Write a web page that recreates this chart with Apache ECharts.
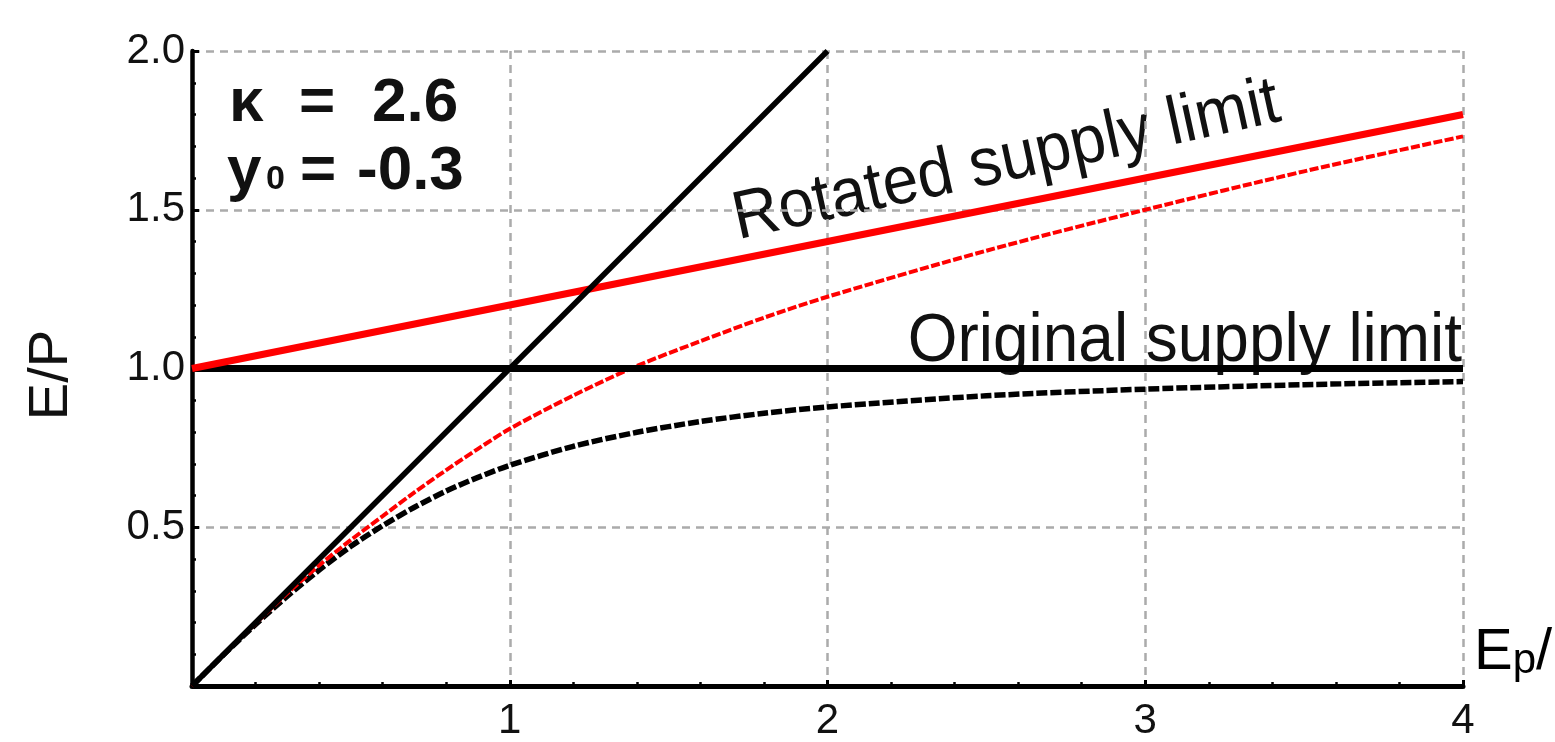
<!DOCTYPE html>
<html>
<head>
<meta charset="utf-8">
<script src="https://cdn.jsdelivr.net/npm/echarts@6/dist/echarts.min.js"></script>
<style>
  html, body { margin: 0; padding: 0; background: #fff; }
  #chart { width: 1555px; height: 742px; }
</style>
</head>
<body>
<div id="chart"></div>
<script>
// Aridity index Ep/P along the x axis
const aridity = [0, 0.1, 0.2, 0.3, 0.4, 0.5, 0.6, 0.7, 0.8, 0.9, 1.0, 1.2, 1.4, 1.6, 1.8, 2.0, 2.5, 3.0, 3.5, 4.0];
// Evaporative index E/P for the original curve (black dashed)
const originalCurve = [0, 0.099, 0.194, 0.283, 0.365, 0.44, 0.505, 0.563, 0.614, 0.657, 0.695, 0.755, 0.799, 0.833, 0.859, 0.879, 0.914, 0.935, 0.949, 0.959];
// Evaporative index E/P under the rotated supply limit (red dashed)
const rotatedCurve = [0, 0.1, 0.197, 0.292, 0.38, 0.46, 0.535, 0.61, 0.68, 0.747, 0.81, 0.915, 1.008, 1.086, 1.16, 1.226, 1.371, 1.5, 1.621, 1.731];
// Straight limits
const limitX = [0, 4];
const originalLimit = [1, 1];
const rotatedLimit = [1, 1.8];
const demandX = [0, 2];
const demandLimit = [0, 2];
// Axis ticks
const xTicks = [1, 2, 3, 4];
const yTicks = [0.5, 1.0, 1.5, 2.0];

const pairs = (xs, ys) => xs.map((x, i) => [x, ys[i]]);

const chart = echarts.init(document.getElementById('chart'), null, { renderer: 'canvas' });
const font = '"Liberation Sans", Arial, Helvetica, sans-serif';
const ink = '#111';

const gridDash = { color: '#ababab', width: 2.5, type: [8, 6] };

// helper for a plain text element in pixel space
function label(text, x, y, size, opts) {
  opts = opts || {};
  return {
    type: 'text', x: x, y: y,
    rotation: opts.rotation || 0,
    scaleX: opts.scaleX || 1,
    style: {
      text: text,
      font: (opts.bold ? 'bold ' : '') + size + 'px ' + font,
      fill: ink,
      align: opts.align || 'left',
      verticalAlign: 'middle'
    }
  };
}

chart.setOption({
  animation: false,
  backgroundColor: '#ffffff',
  grid: { left: 192, top: 51, width: 1271, height: 642, containLabel: false },
  xAxis: {
    type: 'value', min: 0, max: 4, interval: 1,
    axisLine: { show: true, onZero: false, lineStyle: { color: '#000', width: 5 } },
    axisTick: { show: true, inside: true, length: 6, lineStyle: { color: '#000', width: 3 } },
    minorTick: { show: true, splitNumber: 5, length: 4, lineStyle: { color: '#000', width: 2.5 } },
    splitLine: { show: true, lineStyle: gridDash },
    axisLabel: {
      fontFamily: font, fontSize: 42, color: ink, margin: 14,
      formatter: v => (xTicks.indexOf(v) >= 0 ? String(v) : '')
    }
  },
  yAxis: {
    type: 'value', min: 0, max: 2, interval: 0.5,
    axisLine: { show: true, onZero: false, lineStyle: { color: '#000', width: 4.5 } },
    axisTick: { show: true, inside: true, length: 7, lineStyle: { color: '#000', width: 3 } },
    minorTick: { show: true, splitNumber: 5, length: 4, lineStyle: { color: '#000', width: 2.5 } },
    splitLine: { show: true, lineStyle: gridDash },
    axisLabel: {
      fontFamily: font, fontSize: 42, color: ink, margin: 7,
      formatter: v => (yTicks.indexOf(v) >= 0 ? v.toFixed(1) : '')
    }
  },
  series: [
    {
      name: 'original', type: 'line', data: pairs(aridity, originalCurve),
      showSymbol: false, smooth: 0.3, z: 2,
      lineStyle: { color: '#000', width: 5.5, type: [11, 3] }
    },
    {
      name: 'rotated', type: 'line', data: pairs(aridity, rotatedCurve),
      showSymbol: false, smooth: 0.3, z: 3,
      lineStyle: { color: '#ff0000', width: 4, type: [9, 2.5] }
    },
    {
      name: 'original limit', type: 'line', data: pairs(limitX, originalLimit),
      showSymbol: false, z: 4,
      lineStyle: { color: '#000', width: 7 }
    },
    {
      name: 'rotated limit', type: 'line', data: pairs(limitX, rotatedLimit),
      showSymbol: false, z: 5,
      lineStyle: { color: '#ff0000', width: 7 }
    },
    {
      name: 'demand limit', type: 'line', data: pairs(demandX, demandLimit),
      showSymbol: false, z: 6,
      lineStyle: { color: '#000', width: 5.5 }
    }
  ],
  graphic: [
    label('E/P', 52, 375, 56, { rotation: Math.PI / 2, align: 'center' }),
    {
      type: 'text', x: 1474, y: 651,
      style: {
        text: '{e|E}{p|p}{e|/P}', align: 'left', verticalAlign: 'middle',
        rich: {
          e: { fontFamily: font, fontSize: 58, color: ink, verticalAlign: 'bottom', lineHeight: 62 },
          p: { fontFamily: font, fontSize: 42, color: ink, verticalAlign: 'bottom', lineHeight: 62 }
        }
      }
    },
    // model parameters
    label('κ', 229, 104, 62, { bold: true }),
    label('=', 299, 104, 62, { bold: true }),
    label('2.6', 372, 104, 62, { bold: true }),
    label('y', 227, 172, 62, { bold: true }),
    label('0', 266, 180, 34, { bold: true }),
    label('=', 300, 172, 62, { bold: true }),
    label('-0.3', 357, 172, 62, { bold: true }),
    // limit annotations
    label('Rotated supply limit', 734, 221, 68, { rotation: 0.2147, scaleX: 0.94 }),
    label('Original supply limit', 1462, 342, 68, { align: 'right', scaleX: 0.94 })
  ]
});
</script>
</body>
</html>
